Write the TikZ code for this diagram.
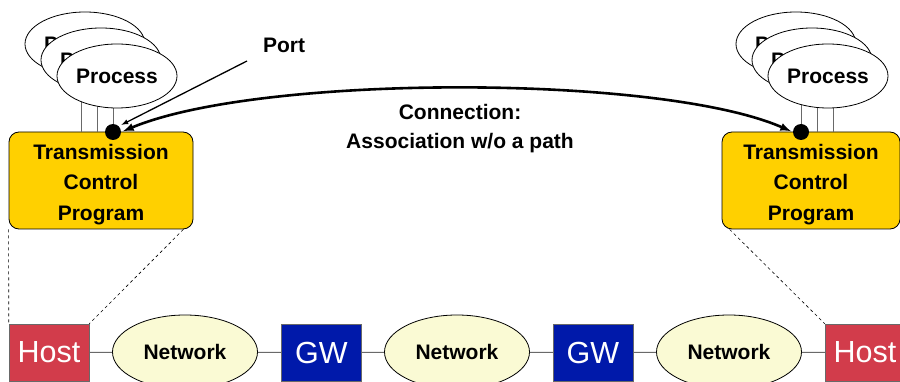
\documentclass[tikz,border=0pt]{standalone}
\usepackage{fontspec}
\setmainfont{Liberation Sans}
\usetikzlibrary{shapes.geometric}
\definecolor{tcpgold}{RGB}{255,208,0}
\definecolor{hostred}{RGB}{210,60,75}
\definecolor{gwblue}{RGB}{0,25,170}
\definecolor{netcream}{RGB}{250,250,212}
\definecolor{linegray}{RGB}{105,105,105}
\begin{document}
\begin{tikzpicture}[x=1pt, y=-1pt, font=\fontsize{21}{25}\selectfont\bfseries]
% define node styles
\tikzstyle{every node} = [inner sep=0pt]
\tikzstyle{process}    = [draw, ellipse, fill=white, line width=0.8pt, minimum width=120pt, minimum height=64pt]
\tikzstyle{tcpbox}     = [draw, rectangle, rounded corners=10pt, fill=tcpgold, line width=0.8pt,
                          minimum width=184pt, minimum height=97pt]
\tikzstyle{tcptext}    = [align=center, font=\fontsize{21}{30.5}\selectfont\bfseries]
\tikzstyle{hostbox}    = [draw=linegray, rectangle, fill=hostred, text=white, minimum width=80pt, minimum height=57pt,
                          font=\fontsize{30.5}{34}\selectfont\mdseries]
\tikzstyle{gwbox}      = [hostbox, fill=gwblue]
\tikzstyle{network}    = [draw, ellipse, fill=netcream, line width=0.8pt, minimum width=145pt, minimum height=74pt]
\tikzstyle{portdot}    = [circle, fill=black, minimum size=16pt]
\tikzstyle{procline}   = [draw=linegray, line width=0.8pt]

\clip (0,0) rectangle (900,382);

% transmission control programs
\node [tcpbox] (tcpl) at (101,180.5) {};
\node [tcpbox, minimum width=178pt] (tcpr) at (811,180.5) {};
\foreach \b in {tcpl, tcpr}
    \node [tcptext] (\b text) at ([yshift=-4pt]\b.center) {Transmission\\Control\\Program};

% lines from the processes down to the programs
\foreach \x in {81, 97, 113}
    \draw [procline] (\x,70) -- (\x,132);
\foreach \x in {801, 817, 833}
    \draw [procline] (\x,70) -- (\x,132);

% process stacks
\foreach \n/\x/\y in {1/85/44, 2/101/60, 3/117/76}
    \node [process] (pl\n) at (\x,\y) {Process};
\foreach \n/\x/\y in {1/796/44, 2/812/60, 3/828/76}
    \node [process] (pr\n) at (\x,\y) {Process};

% ports
\node [portdot] (portl) at (113,132) {};
\node [portdot] (portr) at (801,132) {};

% port label
\node (port) at (284,45) {Port};
\coordinate (porttail) at (247,61);
\draw [line width=1.3pt, -latex, shorten >=3pt] (porttail) -- (portl.north east);

% connection
\node [align=center, font=\fontsize{21}{29}\selectfont\bfseries] (conn) at (460,129) {Connection:\\Association w/o a path};
\draw [line width=2.6pt, latex-latex, shorten <=2pt, shorten >=2pt]
    (portl.east) .. controls (260,74) and (660,74) .. (portr.west);

% hosts, networks and gateways
\node [hostbox] (hostl) at (49,352.5)  {Host};
\node [network] (net1)  at (185,352)   {Network};
\node [gwbox]   (gw1)   at (321.5,352.5) {GW};
\node [network] (net2)  at (457,352)   {Network};
\node [gwbox]   (gw2)   at (593,352.5) {GW};
\node [network] (net3)  at (729,352)   {Network};
\node [hostbox] (hostr) at (865,352.5) {Host};

% links
\foreach \from/\to in {hostl/net1, net1/gw1, gw1/net2, net2/gw2, gw2/net3, net3/hostr}
    \draw [linegray, line width=1pt] (\from) -- (\to);

% zoom lines
\draw [dashed, line width=0.6pt] (tcpl.south west) -- (hostl.north west);
\draw [dashed, line width=0.6pt] (tcpl.south east) ++(-10,0) -- (hostl.north east);
\draw [dashed, line width=0.6pt] (tcpr.south west) ++(8,0) -- (hostr.north west);

\end{tikzpicture}
\end{document}
